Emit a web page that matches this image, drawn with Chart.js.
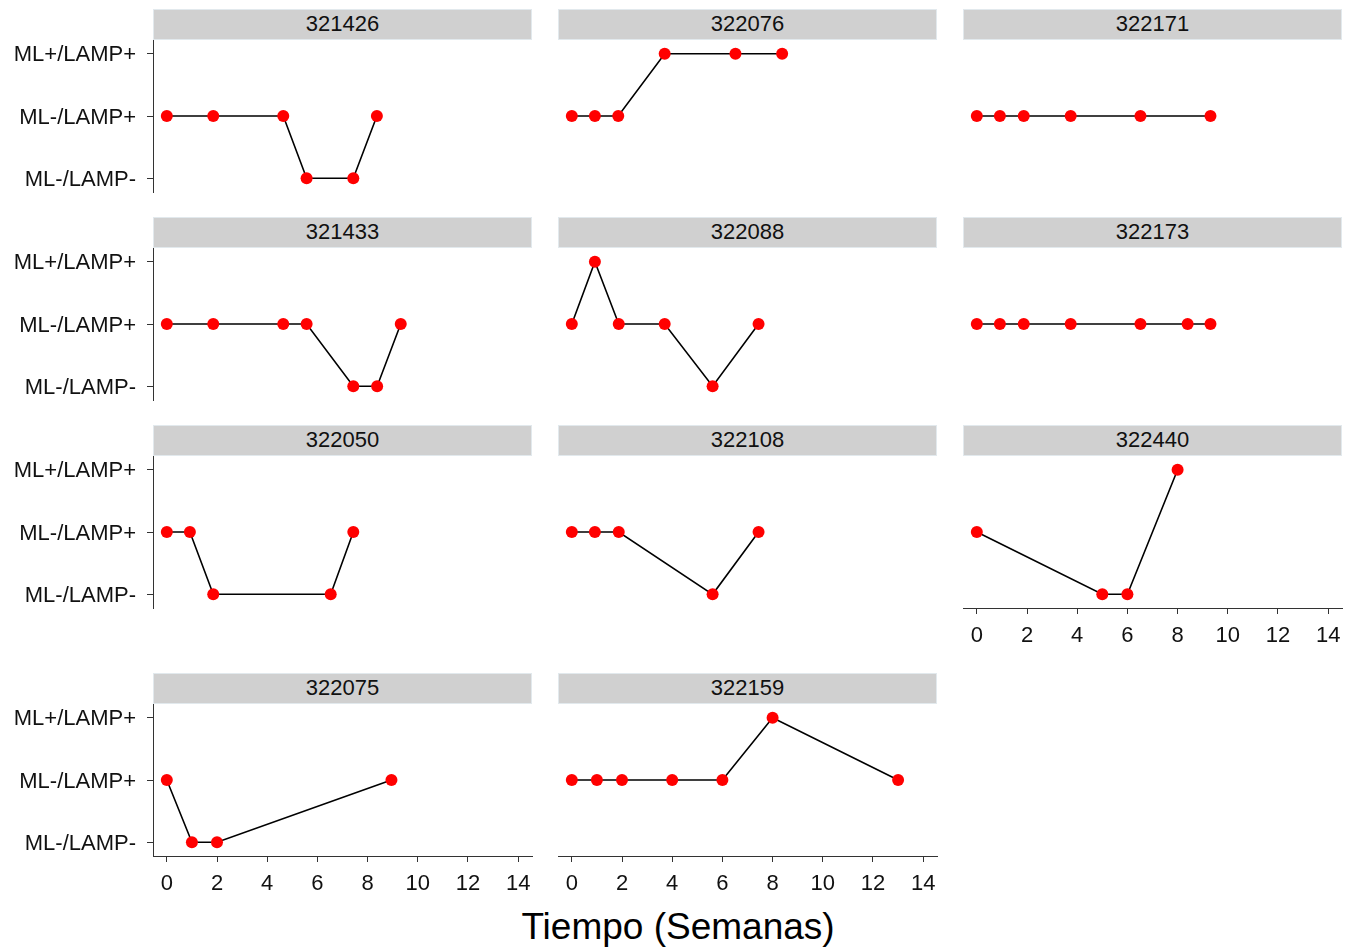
<!DOCTYPE html>
<html>
<head>
<meta charset="utf-8">
<script src="https://cdn.jsdelivr.net/npm/chart.js@4.4.1/dist/chart.umd.min.js"></script>
<style>
  html, body { margin: 0; padding: 0; background: #ffffff; }
  #page { position: relative; width: 1347px; height: 951px; overflow: hidden;
          font-family: "Liberation Sans", Arial, Helvetica, sans-serif; }
  .strip { position: absolute; box-sizing: border-box; background: #d0d0d0;
           border: 1px solid #e2e9ed; color: #111; font-size: 22px; line-height: 27px;
           text-align: center; white-space: nowrap; }
  canvas { position: absolute; }
  #xtitle { position: absolute; left: 424px; width: 508px; top: 908px; text-align: center;
            font-size: 37px; line-height: 37px; color: #000; white-space: nowrap; }
</style>
</head>
<body>
<div id="page">
  <div id="xtitle">Tiempo (Semanas)</div>
</div>
<script>
// ---------- data ----------
const NEG  = 'ML-/LAMP-';
const POS  = 'ML-/LAMP+';
const BOTH = 'ML+/LAMP+';
const levels = [NEG, POS, BOTH];           // bottom -> top
const xTickValues = [0, 2, 4, 6, 8, 10, 12, 14];
const panelIds = ['321426', '322076', '322171', '321433', '322088', '322173',
                  '322050', '322108', '322440', '322075', '322159'];

const weeks321426  = [0, 1.85, 4.64, 5.57, 7.43, 8.37];
const status321426 = [POS, POS, POS, NEG, NEG, POS];

const weeks322076  = [0, 0.92, 1.85, 3.70, 6.52, 8.38];
const status322076 = [POS, POS, POS, BOTH, BOTH, BOTH];

const weeks322171  = [0, 0.92, 1.87, 3.74, 6.52, 9.31];
const status322171 = [POS, POS, POS, POS, POS, POS];

const weeks321433  = [0, 1.85, 4.64, 5.57, 7.43, 8.38, 9.32];
const status321433 = [POS, POS, POS, POS, NEG, NEG, POS];

const weeks322088  = [0, 0.92, 1.87, 3.70, 5.61, 7.44];
const status322088 = [POS, BOTH, POS, POS, NEG, POS];

const weeks322173  = [0, 0.92, 1.87, 3.74, 6.52, 8.40, 9.31];
const status322173 = [POS, POS, POS, POS, POS, POS, POS];

const weeks322050  = [0, 0.92, 1.85, 6.53, 7.43];
const status322050 = [POS, POS, NEG, NEG, POS];

const weeks322108  = [0, 0.92, 1.87, 5.61, 7.44];
const status322108 = [POS, POS, POS, NEG, POS];

const weeks322440  = [0, 5, 6, 8];
const status322440 = [POS, NEG, NEG, BOTH];

const weeks322075  = [0, 1, 2, 8.95];
const status322075 = [POS, NEG, NEG, POS];

const weeks322159  = [0, 1, 2, 4, 6, 8, 13];
const status322159 = [POS, POS, POS, POS, POS, BOTH, POS];

const panelWeeks = [weeks321426, weeks322076, weeks322171, weeks321433, weeks322088, weeks322173,
                    weeks322050, weeks322108, weeks322440, weeks322075, weeks322159];
const panelStatus = [status321426, status322076, status322171, status321433, status322088, status322173,
                     status322050, status322108, status322440, status322075, status322159];

// ---------- layout ----------
const FONT = '"Liberation Sans", Arial, Helvetica, sans-serif';
Chart.defaults.font.family = FONT;
Chart.defaults.color = '#111';

const colLeft = [153, 558, 963];
const plotW = 379;
const plotTop = [40, 248, 456, 704];
const plotH = 152;
const STRIP_H = 31;
const PAD = 30;
const AXIS_H = 50;
const AXIS_COLOR = '#333333';

const page = document.getElementById('page');

panelIds.forEach((id, i) => {
  const row = Math.floor(i / 3);
  const col = i % 3;
  const showY = col === 0;
  const showX = (i + 3) >= panelIds.length;

  // strip header
  const strip = document.createElement('div');
  strip.className = 'strip';
  strip.style.left = colLeft[col] + 'px';
  strip.style.top = (plotTop[row] - STRIP_H) + 'px';
  strip.style.width = plotW + 'px';
  strip.style.height = STRIP_H + 'px';
  strip.textContent = id;
  page.appendChild(strip);

  // canvas
  const left = showY ? 0 : colLeft[col] - PAD;
  const width = (colLeft[col] - left) + plotW + PAD;
  const top = plotTop[row] - PAD;
  const height = PAD + plotH + (showX ? AXIS_H : PAD);
  const cv = document.createElement('canvas');
  cv.width = width; cv.height = height;
  cv.style.left = left + 'px'; cv.style.top = top + 'px';
  cv.style.width = width + 'px'; cv.style.height = height + 'px';
  page.appendChild(cv);

  const pts = panelWeeks[i].map((w, k) => ({ x: w, y: levels.indexOf(panelStatus[i][k]) + 1 }));

  new Chart(cv.getContext('2d'), {
    type: 'line',
    data: {
      datasets: [{
        data: pts,
        borderColor: '#000000',
        borderWidth: 1.6,
        tension: 0,
        fill: false,
        clip: false,
        pointRadius: 6,
        pointHoverRadius: 6,
        pointBackgroundColor: '#ff0000',
        pointBorderColor: '#ff0000',
        pointBorderWidth: 0
      }]
    },
    options: {
      responsive: false,
      animation: false,
      events: [],
      layout: { padding: { left: showY ? 0 : PAD, right: PAD, top: PAD, bottom: showX ? 0 : PAD } },
      plugins: { legend: { display: false }, tooltip: { enabled: false }, title: { display: false } },
      scales: {
        x: {
          type: 'linear',
          min: -0.55, max: 14.55,
          display: showX,
          afterBuildTicks: s => { s.ticks = xTickValues.map(v => ({ value: v })); },
          afterFit: s => { if (showX) s.height = AXIS_H; },
          grid: { display: true, drawOnChartArea: false, drawTicks: true, tickLength: 6,
                  color: AXIS_COLOR, lineWidth: 1 },
          border: { display: true, color: AXIS_COLOR, width: 1 },
          ticks: { padding: 9, font: { size: 22 }, color: '#111', maxRotation: 0, autoSkip: false }
        },
        y: {
          type: 'linear',
          min: 0.78, max: 3.22,
          display: showY,
          afterBuildTicks: s => { s.ticks = [1, 2, 3].map(v => ({ value: v })); },
          afterFit: s => { if (showY) s.width = colLeft[0]; },
          grid: { display: true, drawOnChartArea: false, drawTicks: true, tickLength: 6,
                  color: AXIS_COLOR, lineWidth: 1 },
          border: { display: true, color: AXIS_COLOR, width: 1 },
          ticks: { padding: 11, labelOffset: 1.5, font: { size: 22 }, color: '#111', autoSkip: false,
                   callback: v => levels[Math.round(v) - 1] }
        }
      }
    }
  });
});
</script>
</body>
</html>
